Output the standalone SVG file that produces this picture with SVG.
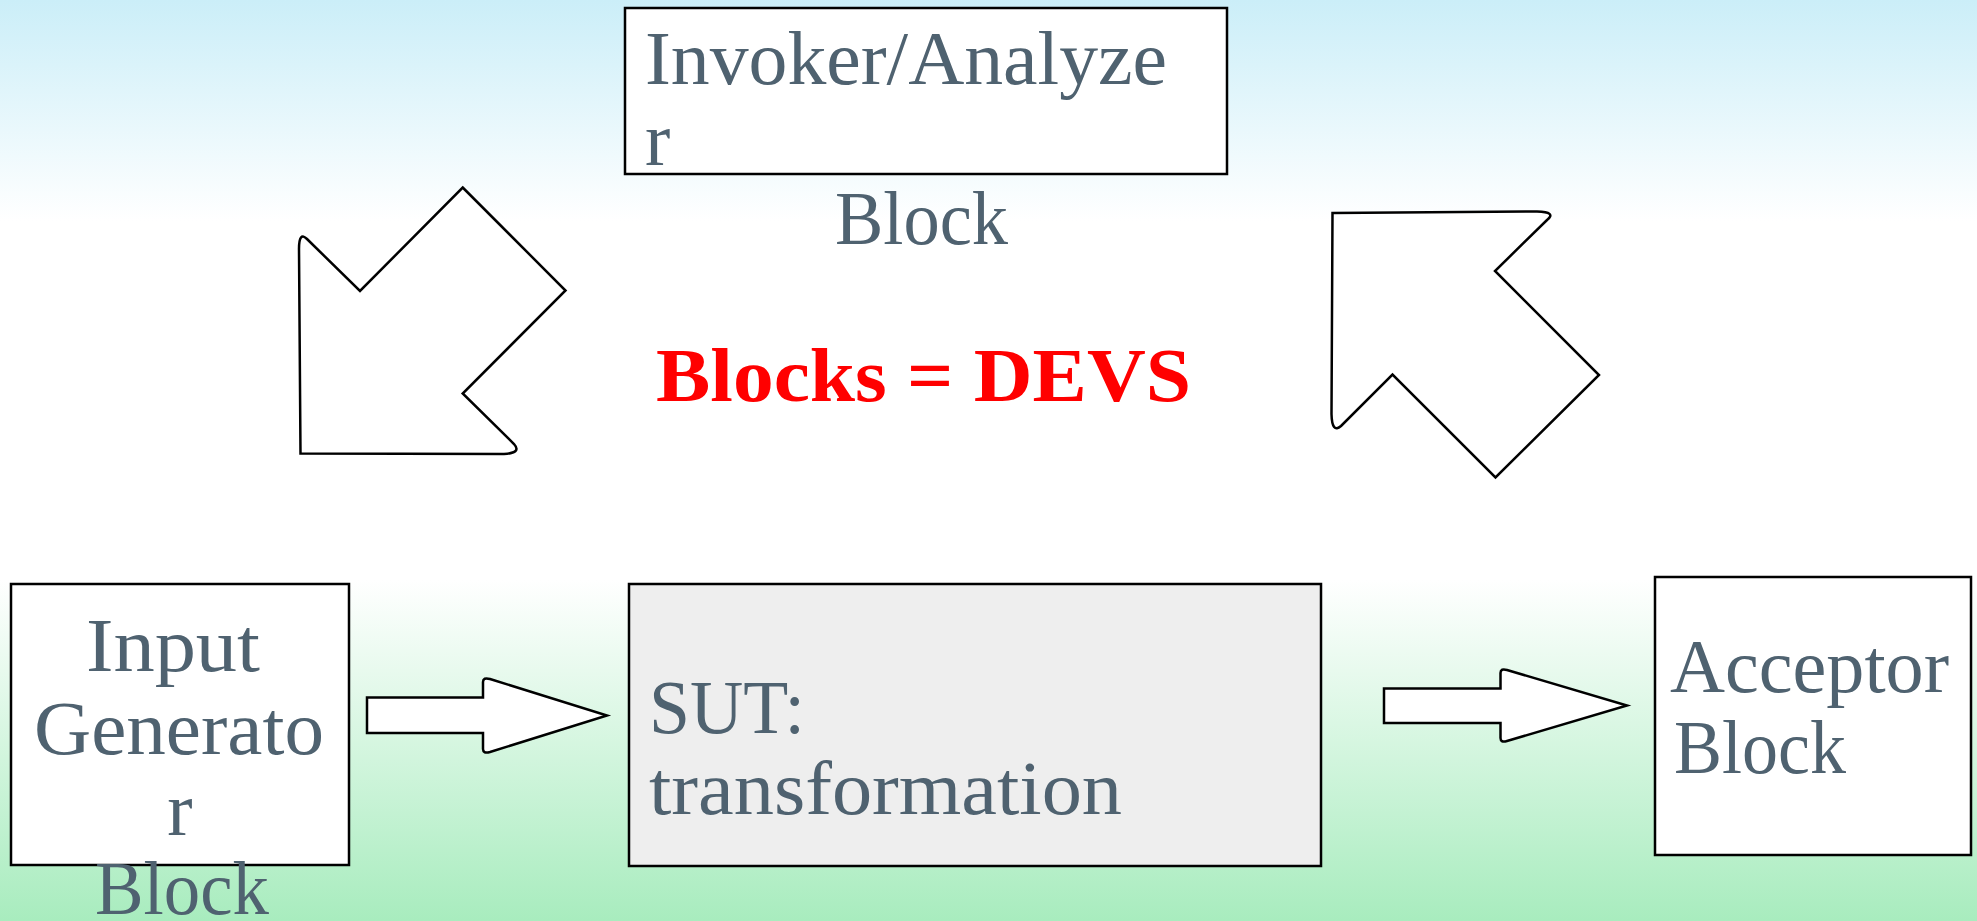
<svg xmlns="http://www.w3.org/2000/svg" width="1977" height="921" viewBox="0 0 1977 921">
<defs>
<linearGradient id="bg" x1="0" y1="0" x2="0" y2="1">
<stop offset="0" stop-color="#CBEEF8"/>
<stop offset="0.24" stop-color="#FFFFFF"/>
<stop offset="0.63" stop-color="#FFFFFF"/>
<stop offset="1" stop-color="#A8ECBE"/>
</linearGradient>
<style>
.box{fill:#FFFFFF;stroke:#000;stroke-width:2.5}
.sut{fill:#EEEEEE;stroke:#000;stroke-width:2.5}
.arr{fill:#FFFFFF;stroke:#000;stroke-width:2.5;stroke-linejoin:miter}
.t{font-family:"Liberation Serif","DejaVu Serif",serif;font-size:76px;fill:#4F6270}
.red{font-family:"Liberation Serif","DejaVu Serif",serif;font-size:76px;font-weight:bold;fill:#FF0000}
</style>
</defs>
<rect x="0" y="0" width="1977" height="921" fill="url(#bg)"/>
<g id="invoker">
<rect class="box" x="625" y="8" width="602" height="166"/>
<text class="t" x="645" y="84" textLength="522" lengthAdjust="spacingAndGlyphs">Invoker/Analyze</text>
<text class="t" x="645" y="165">r</text>
<text class="t" x="835" y="244" textLength="173" lengthAdjust="spacingAndGlyphs">Block</text>
</g>
<g id="label-devs">
<text class="red" x="656" y="401" textLength="535" lengthAdjust="spacingAndGlyphs">Blocks = DEVS</text>
</g>
<g id="input-generator">
<rect class="box" x="11" y="584" width="338" height="281"/>
<text class="t" x="173" y="671" text-anchor="middle" textLength="174" lengthAdjust="spacingAndGlyphs">Input</text>
<text class="t" x="179" y="754" text-anchor="middle" textLength="290" lengthAdjust="spacingAndGlyphs">Generato</text>
<text class="t" x="180" y="835" text-anchor="middle">r</text>
<text class="t" x="182" y="914" text-anchor="middle" textLength="174" lengthAdjust="spacingAndGlyphs">Block</text>
</g>
<g id="sut">
<rect class="sut" x="629" y="584" width="692" height="282"/>
<text class="t" x="649" y="733" textLength="156" lengthAdjust="spacingAndGlyphs">SUT:</text>
<text class="t" x="649" y="814" textLength="473" lengthAdjust="spacingAndGlyphs">transformation</text>
</g>
<g id="acceptor">
<rect class="box" x="1655" y="577" width="316" height="278"/>
<text class="t" x="1670" y="692" textLength="279" lengthAdjust="spacingAndGlyphs">Acceptor</text>
<text class="t" x="1674" y="773" textLength="172" lengthAdjust="spacingAndGlyphs">Block</text>
</g>
<g id="connectors">
<path class="arr" d="M462.7,187.5 L565.5,290.5 L462.7,393.5 L514,444 Q522,453 504,454 L300.5,453.5 L299,249 Q299,231 307,239 L360,291 Z"/>
<path class="arr" d="M1332.5,213 L1537,211.5 Q1557,212 1547,220 L1495,271 L1599,375 L1495.5,477.5 L1392.5,374.5 L1341,426 Q1332,434 1331.5,414 Z"/>
<path class="arr" d="M367,697.5 L483,697.5 L483,682 Q483,677 490,679 L607,715.5 L490,752 Q483,754 483,749 L483,733 L367,733 Z"/>
<path class="arr" d="M1384,688.5 L1500.5,688.5 L1500.5,673 Q1500.5,668 1507,670 L1627,705.5 L1507,741 Q1500.5,743 1500.5,738 L1500.5,723 L1384,723 Z"/>
</g>
</svg>
